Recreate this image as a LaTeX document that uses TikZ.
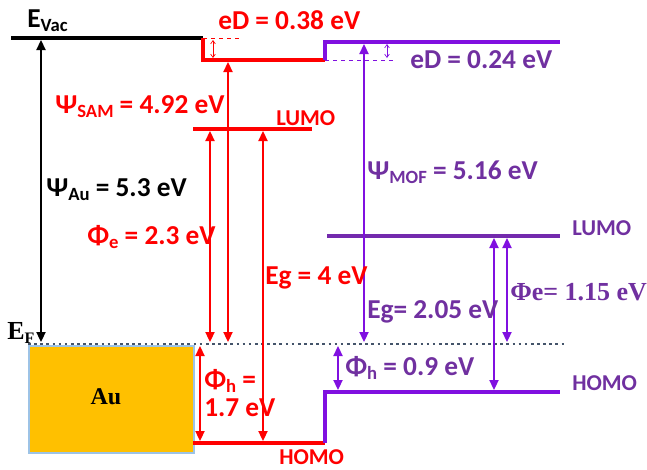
\documentclass[tikz,border=0pt]{standalone}
\usepackage{fontspec}
\setmainfont{Carlito}
\newfontfamily\serif{Liberation Serif}
\usetikzlibrary{arrows.meta}
\definecolor{samred}{RGB}{255,0,0}
\definecolor{mofline}{RGB}{128,16,224}
\definecolor{moftext}{RGB}{112,48,160}
\definecolor{efline}{RGB}{68,84,106}
\definecolor{gold}{RGB}{255,192,0}
\definecolor{aubord}{RGB}{157,195,230}
\newcommand\subs[1]{\raisebox{-0.3ex}{\fontsize{14}{14}\selectfont #1}}
\tikzset{
  lvl/.style={line width=2.3pt},
  biarrow/.style={line width=1.5pt,{Triangle[length=7.5pt,width=6.8pt]}-{Triangle[length=7.5pt,width=6.8pt]}},
  smallarrow/.style={line width=0.5pt,{Straight Barb[length=2.5pt,width=3.5pt]}-{Straight Barb[length=2.5pt,width=3.5pt]}},
  lbl/.style={font=\fontsize{20.5}{20.5}\selectfont\bfseries, inner sep=0pt},
  slbl/.style={font=\fontsize{17}{17}\selectfont\bfseries, inner sep=0pt},
  serlbl/.style={font=\serif\fontsize{19.5}{19.5}\selectfont\bfseries, inner sep=0pt},
}
\begin{document}
\begin{tikzpicture}[x=0.75pt,y=-0.75pt]
\useasboundingbox (0,0) rectangle (647,469);
% Au box
\node[draw=aubord, line width=1.5pt, fill=gold, minimum width=165*0.75pt, minimum height=107*0.75pt, inner sep=0pt, anchor=north west] (au) at (28,345) {};
\node[font=\serif\fontsize{18}{18}\selectfont\bfseries] (autext) at (106,397) {Au};
% coordinates
\coordinate (vacL) at (11,38);
\coordinate (vacR) at (203,38);
\coordinate (samVacL) at (203,60);
\coordinate (samVacR) at (325,60);
\coordinate (mofVacL) at (325,42);
\coordinate (mofVacR) at (560,42);
\coordinate (samLumoL) at (193,129);
\coordinate (samLumoR) at (312,129);
\coordinate (samHomoL) at (193,443);
\coordinate (samHomoR) at (325,443);
\coordinate (mofHomoL) at (325,392);
\coordinate (mofHomoR) at (560,392);
\coordinate (mofLumoL) at (327,236);
\coordinate (mofLumoR) at (560,236);
\coordinate (efL) at (28,344);
\coordinate (efR) at (565,344);
% Fermi level dotted
\draw[efline, line width=2pt, dash pattern=on 2pt off 2.6pt] (efL) -- (efR);
% vacuum levels
\draw[lvl, black] (vacL) -- (vacR);
\draw[lvl, samred] (vacR) -- (samVacL) -- (samVacR);
\draw[lvl, mofline] (samVacR) -- (mofVacL) -- (mofVacR);
\draw[samred, line width=0.5pt, dashed] (vacR) -- +(39,0) coordinate (samDashEnd);
\draw[mofline, line width=0.5pt, dashed] (samVacR) -- +(70,0) coordinate (mofDashEnd);
% LUMO / HOMO
\draw[lvl, samred] (samLumoL) -- (samLumoR);
\draw[lvl, samred] (samHomoL) -- (samHomoR);
\draw[lvl, mofline] (samHomoR) -- (mofHomoL) -- (mofHomoR);
\draw[lvl, moftext!80!mofline] (mofLumoL) -- (mofLumoR);
% small eD arrows
\coordinate (eDsT) at (213,40); \coordinate (eDsB) at (213,58);
\coordinate (eDmT) at (387,44); \coordinate (eDmB) at (387,58);
\draw[smallarrow, samred] (eDsT) -- (eDsB);
\draw[smallarrow, mofline] (eDmT) -- (eDmB);
% black arrow
\coordinate (auT) at (41,40); \coordinate (auB) at (41,342);
\draw[biarrow, black] (auT) -- (auB);
% SAM arrows
\coordinate (psT) at (228,62); \coordinate (psB) at (228,342);
\draw[biarrow, samred] (psT) -- (psB);
\coordinate (peT) at (210,131); \coordinate (peB) at (210,342);
\draw[biarrow, samred] (peT) -- (peB);
\coordinate (egT) at (263,131); \coordinate (egB) at (263,441);
\draw[biarrow, samred] (egT) -- (egB);
\coordinate (phT) at (200,346); \coordinate (phB) at (200,441);
\draw[biarrow, samred] (phT) -- (phB);
% MOF arrows
\coordinate (pmT) at (364,44); \coordinate (pmB) at (364,342);
\draw[biarrow, mofline] (pmT) -- (pmB);
\coordinate (emT) at (494,238); \coordinate (emB) at (494,390);
\draw[biarrow, mofline] (emT) -- (emB);
\coordinate (fmT) at (507,238); \coordinate (fmB) at (507,342);
\draw[biarrow, mofline] (fmT) -- (fmB);
\coordinate (hmT) at (338,346); \coordinate (hmB) at (338,390);
\draw[biarrow, mofline] (hmT) -- (hmB);
% labels
\node[lbl, anchor=west] (evac) at (27,21) {E\subs{Vac}};
\node[serlbl, anchor=west] (ef) at (7,333) {E\raisebox{-0.3ex}{\fontsize{12}{12}\selectfont F}};
\node[lbl, samred, anchor=west] (eds) at (218,20) {eD = 0.38 eV};
\node[lbl, moftext, anchor=west] (edm) at (410,60) {eD = 0.24 eV};
\node[lbl, samred, anchor=west] (psam) at (55,107) {Ψ\subs{SAM} = 4.92 eV};
\node[slbl, samred, anchor=west] (lumos) at (276,118) {LUMO};
\node[lbl, black, anchor=west] (pau) at (46,190) {Ψ\subs{Au} = 5.3 eV};
\node[lbl, samred, anchor=west] (phes) at (87,237) {Φ\subs{e} = 2.3 eV};
\node[lbl, samred, anchor=west] (egs) at (265,278) {Eg = 4 eV};
\node[lbl, samred, anchor=north west, align=left] (phs) at (204,369) {Φ\subs{h} =\\[0.5pt]1.7 eV};
\node[slbl, samred, anchor=west] (homos) at (279,457) {HOMO};
\node[lbl, moftext, anchor=west] (pmof) at (367,172) {Ψ\subs{MOF} = 5.16 eV};
\node[slbl, moftext, anchor=west] (lumom) at (572,228) {LUMO};
\node[serlbl, moftext, anchor=west] (phem) at (510,292) {Φe= 1.15 eV};
\node[lbl, moftext, anchor=west] (egm) at (367,312) {Eg= 2.05 eV};
\node[lbl, moftext, anchor=west] (phm) at (345,368) {Φ\subs{h} = 0.9 eV};
\node[slbl, moftext, anchor=west] (homom) at (572,383) {HOMO};
\end{tikzpicture}
\end{document}
